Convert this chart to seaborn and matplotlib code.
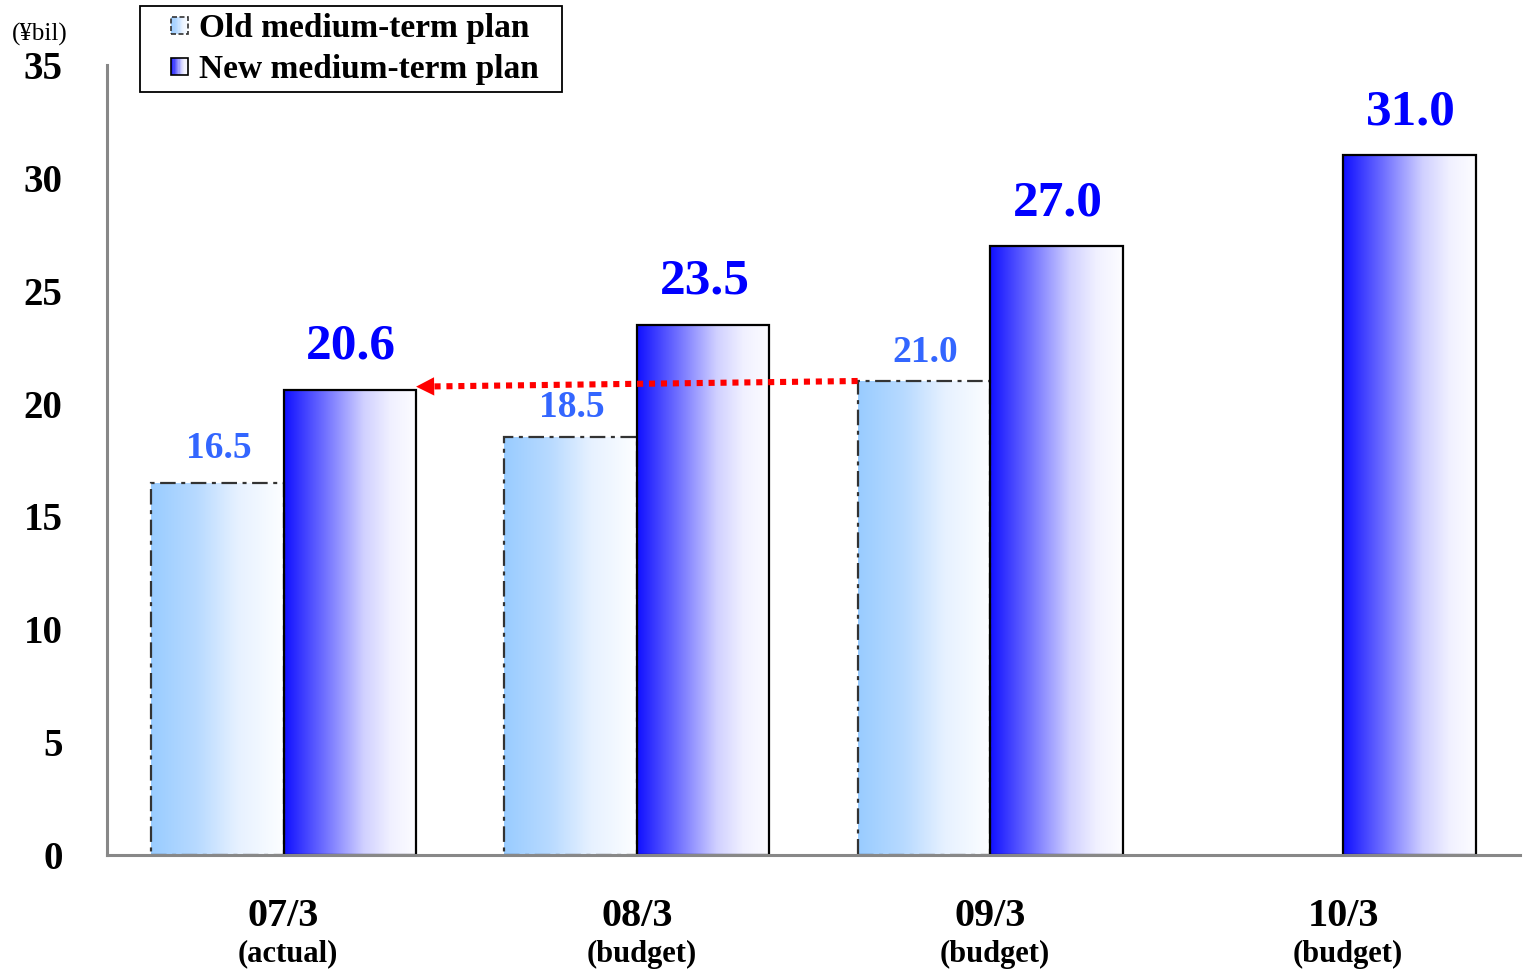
import numpy as np
import pandas as pd
import matplotlib
matplotlib.use("Agg")
import matplotlib.pyplot as plt
import matplotlib.transforms as mtransforms
import seaborn as sns
from matplotlib.colors import LinearSegmentedColormap
from matplotlib.patches import Rectangle
from matplotlib.legend_handler import HandlerBase

# ---- data -------------------------------------------------------------
periods = ["07/3", "08/3", "09/3", "10/3"]
period_notes = ["(actual)", "(budget)", "(budget)", "(budget)"]
old_plan = [16.5, 18.5, 21.0, np.nan]
new_plan = [20.6, 23.5, 27.0, 31.0]
series_names = ["Old medium-term plan", "New medium-term plan"]
y_ticks = [0, 5, 10, 15, 20, 25, 30, 35]
unit_label = "(¥bil)"

df = pd.DataFrame({
    "period": periods * 2,
    "plan": [series_names[0]] * len(periods) + [series_names[1]] * len(periods),
    "value": old_plan + new_plan,
}).dropna()

# ---- style ------------------------------------------------------------
sns.set_style("white")
plt.rcParams["font.family"] = ["Liberation Serif", "DejaVu Serif"]
plt.rcParams["font.weight"] = "bold"
plt.rcParams["text.color"] = "black"
plt.rcParams["xtick.labelcolor"] = "black"
plt.rcParams["ytick.labelcolor"] = "black"

axis_grey = "#888888"
old_cmap = LinearSegmentedColormap.from_list(
    "old", [(0.0, "#99CCFF"), (0.35, "#B8DAFF"), (0.65, "#E6F1FF"), (1.0, "#FDFEFF")])
new_cmap = LinearSegmentedColormap.from_list(
    "new", [(0.0, "#1010FF"), (0.3, "#6E6EFF"), (0.6, "#D0D0FF"), (0.8, "#F0F0FF"), (1.0, "#FDFDFF")])

fig = plt.figure(figsize=(15.25, 9.71), dpi=100)
ax = fig.add_axes([107 / 1525, 1 - 855 / 971, 1413 / 1525, 790 / 971])

sns.barplot(data=df, x="period", y="value", hue="plan", order=periods,
            hue_order=series_names, width=0.75, dodge=True, errorbar=None,
            palette=["#99CCFF", "#1010FF"], legend=False, ax=ax)

# gradient fill inside every bar
grad = np.linspace(0, 1, 256).reshape(1, -1)
styles = [
    dict(cmap=old_cmap, edgecolor="#333333", linestyle=(0, (7, 2.5, 1.8, 2.5)), lw=1.6),
    dict(cmap=new_cmap, edgecolor="black", linestyle="-", lw=1.6),
]
for container, st in zip(ax.containers, styles):
    for bar in container:
        h = bar.get_height()
        if not np.isfinite(h) or h <= 0:
            continue
        x0 = bar.get_x()
        x1 = x0 + bar.get_width()
        img = ax.imshow(grad, cmap=st["cmap"], extent=(x0, x1, 0, h),
                        aspect="auto", zorder=1, interpolation="bicubic")
        img.set_clip_path(bar)
        bar.set_facecolor("none")
        bar.set_edgecolor(st["edgecolor"])
        bar.set_linestyle(st["linestyle"])
        bar.set_linewidth(st["lw"])
        bar.set_zorder(2)

ax.set_xlim(-0.5, 3.5)
ax.set_ylim(0, 35)
ax.set_aspect("auto")

# value labels (offsets in points above each bar top)
old_label_offsets = [17.5, 14.5, 13.5]
new_label_offsets = [22.5, 22.5, 22.0, 22.5]
label_cfg = [
    dict(color="#3366FF", size=27, offs=old_label_offsets),
    dict(color="#0000FF", size=37, offs=new_label_offsets),
]
for container, vals, cfg in zip(ax.containers, [old_plan, new_plan], label_cfg):
    bars = [b for b in container if np.isfinite(b.get_height()) and b.get_height() > 0]
    vs = [v for v in vals if np.isfinite(v)]
    for bar, v, off in zip(bars, vs, cfg["offs"]):
        ax.annotate(f"{v:.1f}", xy=(bar.get_x() + bar.get_width() / 2, v),
                    xytext=(1, off), textcoords="offset points",
                    ha="center", va="baseline", color=cfg["color"],
                    fontsize=cfg["size"], fontweight="bold", zorder=5)

# red dotted arrow: old 09/3 target carried back to the 07/3 result
old_bars = [b for b in ax.containers[0] if np.isfinite(b.get_height())]
new_bars = [b for b in ax.containers[1] if np.isfinite(b.get_height())]
start = (old_bars[2].get_x(), old_plan[2])
tip = (new_bars[0].get_x() + new_bars[0].get_width(), new_plan[0] + 0.15)
slope = (start[1] - tip[1]) / (start[0] - tip[0])
head_dx = 0.045
ax.plot([start[0], tip[0] + head_dx], [start[1], tip[1] + slope * head_dx],
        color="red", lw=4.4, linestyle=(0, (1, 0.95)), dash_capstyle="butt",
        zorder=6)
ax.annotate("", xy=tip, xytext=(tip[0] + head_dx, tip[1] + slope * head_dx),
            arrowprops=dict(arrowstyle="-|>,head_length=0.65,head_width=0.33",
                            color="red", lw=0, mutation_scale=20,
                            shrinkA=0, shrinkB=0), zorder=6)

# axes, ticks
ax.set_xlabel("")
ax.set_ylabel("")
for side in ["top", "right"]:
    ax.spines[side].set_visible(False)
for side in ["left", "bottom"]:
    ax.spines[side].set_color(axis_grey)
    ax.spines[side].set_linewidth(2.2)

ax.set_yticks(y_ticks)
ax.set_yticklabels([str(t) for t in y_ticks])
ax.tick_params(axis="y", direction="in", length=9.5, width=2.2,
               color=axis_grey, pad=32, labelsize=28)
ax.set_xticks(range(len(periods)))
ax.set_xticklabels(periods)
ax.tick_params(axis="x", which="major", length=0, pad=31, labelsize=29)
ax.set_xticks(np.arange(-0.5, len(periods), 1.0), minor=True)
ax.tick_params(axis="x", which="minor", direction="in", length=8.5,
               width=2.2, color=axis_grey)

note_tf = mtransforms.blended_transform_factory(ax.transData, ax.transAxes)
for i, note in enumerate(period_notes):
    ax.text(i + 0.013, -0.107, note, transform=note_tf, ha="center", va="top",
            fontsize=22, fontweight="bold")

fig.text(40 / 1525, 1 - 34 / 971, unit_label, ha="center", va="center",
         fontsize=18, fontweight="normal")


# legend with small gradient swatches
class GradientSwatch(HandlerBase):
    def __init__(self, cmap, edgecolor, linestyle):
        super().__init__()
        self.cmap = cmap
        self.edgecolor = edgecolor
        self.linestyle = linestyle

    def create_artists(self, legend, orig_handle, xdescent, ydescent,
                       width, height, fontsize, trans):
        side = 12.5  # points
        x0 = -xdescent + (width - side) / 2
        y0 = -ydescent + (height - side) / 2
        n = 14
        arts = []
        for k in range(n):
            arts.append(Rectangle((x0 + side * k / n, y0), side / n + 0.3, side,
                                  facecolor=self.cmap((k + 0.5) / n),
                                  edgecolor="none", transform=trans))
        arts.append(Rectangle((x0, y0), side, side, facecolor="none",
                              edgecolor=self.edgecolor, linestyle=self.linestyle,
                              lw=1.2, transform=trans))
        return arts


h_old = Rectangle((0, 0), 1, 1)
h_new = Rectangle((0, 0), 1, 1)
leg = fig.legend(
    handles=[h_old, h_new], labels=series_names,
    handler_map={h_old: GradientSwatch(old_cmap, "#333333", (0, (3, 1.5))),
                 h_new: GradientSwatch(new_cmap, "black", "-")},
    loc="upper left", bbox_to_anchor=(167 / 1525, 1 - 13 / 971),
    bbox_transform=fig.transFigure, borderaxespad=0, borderpad=0,
    frameon=False, prop=dict(size=24, weight="bold"),
    handlelength=0.75, handletextpad=0.21, labelspacing=0.3)

# legend frame
fig.patches.append(Rectangle((140 / 1525, 1 - 92 / 971), 422 / 1525, 86 / 971,
                             transform=fig.transFigure, facecolor="none",
                             edgecolor="black", lw=1.3, zorder=10))

fig.savefig("out.png", dpi=100)
